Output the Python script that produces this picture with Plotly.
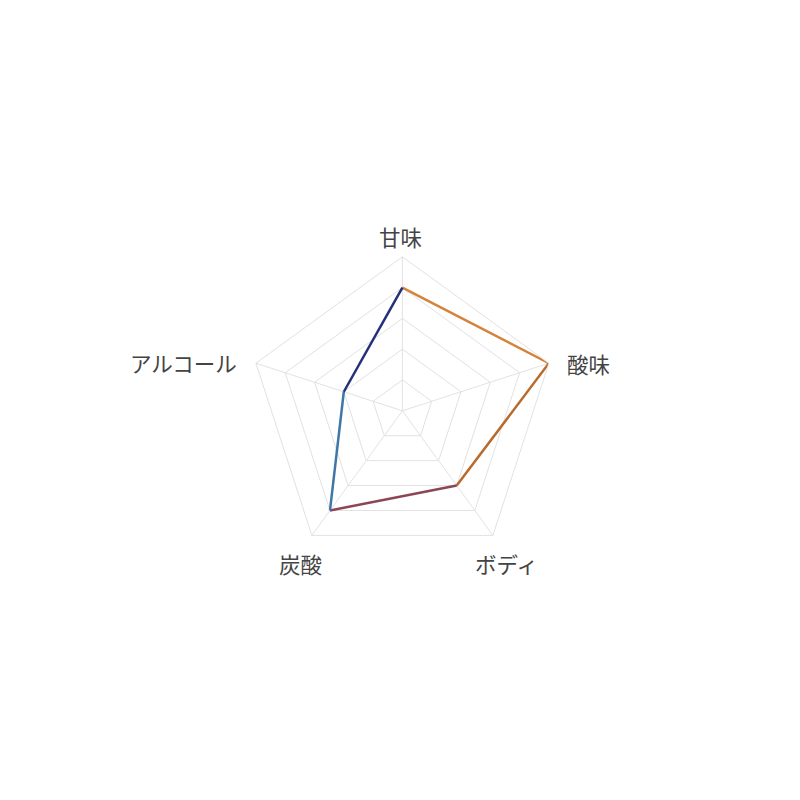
import plotly.graph_objects as go

# taste profile
categories = ["甘味", "酸味", "ボディ", "炭酸", "アルコール"]
values = [4, 5, 3, 4, 2]
# colour of each edge, going clockwise from 甘味
edge_colors = ["#d4843a", "#b86a2c", "#8c4552", "#3f78a6", "#25307a"]

fig = go.Figure()

n = len(categories)
for i in range(n):
    j = (i + 1) % n
    fig.add_trace(go.Scatterpolar(
        r=[values[i], values[j]],
        theta=[categories[i], categories[j]],
        mode="lines",
        line=dict(color=edge_colors[i], width=2.5),
        hoverinfo="skip",
        showlegend=False,
    ))

# axis labels placed by hand (paper coords) so they sit like the original
label_pos = {
    "甘味": (0.491, 0.714),
    "酸味": (0.726, 0.556),
    "ボディ": (0.6225, 0.306),
    "炭酸": (0.365, 0.306),
    "アルコール": (0.219, 0.5575),
}
for name in categories:
    x, y = label_pos[name]
    fig.add_annotation(x=x, y=y, xref="paper", yref="paper", text=name,
                       showarrow=False, xanchor="center", yanchor="middle",
                       font=dict(size=21.5, color="#444444"))

fig.update_layout(
    width=800, height=800,
    margin=dict(l=0, r=0, t=0, b=0),
    paper_bgcolor="white",
    plot_bgcolor="white",
    font=dict(family="Noto Sans CJK JP", size=20, color="#444444"),
    polar=dict(
        domain=dict(x=[0.3005, 0.6855], y=[0.304, 0.689]),
        bgcolor="white",
        gridshape="linear",
        radialaxis=dict(
            range=[0, 5],
            tickvals=[1, 2, 3, 4, 5],
            showticklabels=False,
            ticks="",
            showline=False,
            gridcolor="#e2e2e2",
            gridwidth=1,
        ),
        angularaxis=dict(
            direction="clockwise",
            rotation=90,
            categoryorder="array",
            categoryarray=categories,
            gridcolor="#e2e2e2",
            linecolor="#e2e2e2",
            linewidth=1,
            ticks="",
            showticklabels=False,
        ),
    ),
)

fig.write_html("out.html")
